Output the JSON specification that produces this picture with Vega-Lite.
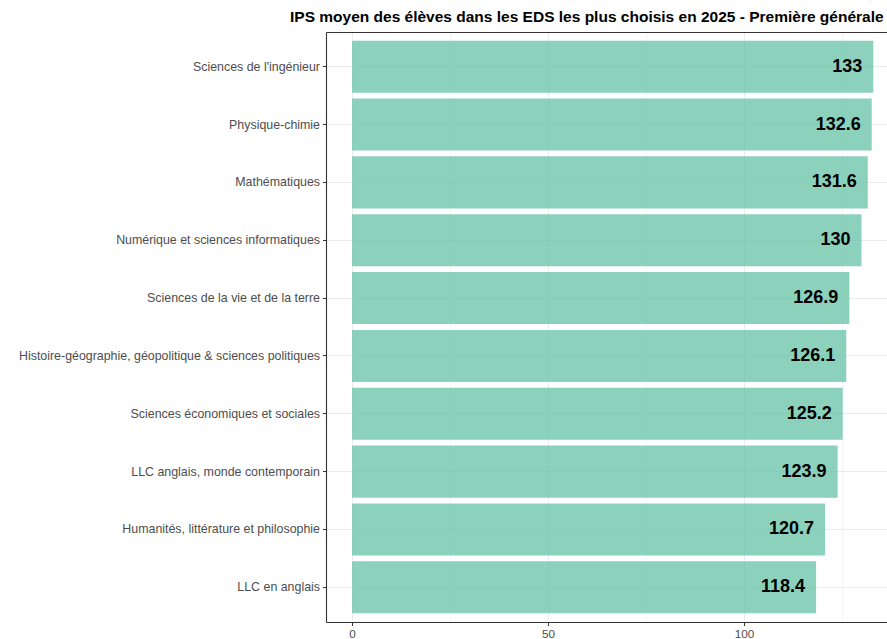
{
  "$schema": "https://vega.github.io/schema/vega-lite/v6.json",
  "autosize": {"type": "none"},
  "padding": {"left": 326, "top": 32, "right": 0, "bottom": 17},
  "width": 561,
  "height": 590,
  "background": "white",
  "title": {
    "text": "IPS moyen des élèves dans les EDS les plus choisis en 2025 - Première générale",
    "anchor": "start",
    "frame": "group",
    "dx": -36,
    "offset": -5,
    "baseline": "alphabetic",
    "font": "Liberation Sans",
    "fontSize": 15.5,
    "fontWeight": "bold",
    "color": "black"
  },
  "config": {
    "font": "Liberation Sans",
    "view": {"stroke": null},
    "axis": {
      "labelFont": "Liberation Sans",
      "labelFontSize": 12.4,
      "labelColor": "#4D4D4D",
      "tickColor": "#333333",
      "tickSize": 3.5,
      "domainColor": "#333333",
      "domainWidth": 1.1,
      "gridColor": "#EBEBEB",
      "title": null
    }
  },
  "data": {
    "values": [
      {"eds": "Sciences de l'ingénieur", "ips": 133},
      {"eds": "Physique-chimie", "ips": 132.6},
      {"eds": "Mathématiques", "ips": 131.6},
      {"eds": "Numérique et sciences informatiques", "ips": 130},
      {"eds": "Sciences de la vie et de la terre", "ips": 126.9},
      {"eds": "Histoire-géographie, géopolitique & sciences politiques", "ips": 126.1},
      {"eds": "Sciences économiques et sociales", "ips": 125.2},
      {"eds": "LLC anglais, monde contemporain", "ips": 123.9},
      {"eds": "Humanités, littérature et philosophie", "ips": 120.7},
      {"eds": "LLC en anglais", "ips": 118.4}
    ]
  },
  "resolve": {"axis": {"x": "independent"}},
  "layer": [
    {
      "mark": {"type": "bar", "color": "#66C2A5", "opacity": 0.75},
      "encoding": {
        "y": {
          "field": "eds",
          "type": "nominal",
          "sort": null,
          "scale": {"paddingInner": 0.1, "paddingOuter": 0.15},
          "axis": {
            "bandPosition": 0.5,
            "grid": true,
            "gridWidth": 1,
            "labelPadding": 3,
            "domain": true,
            "labelLimit": 400
          }
        },
        "x": {
          "field": "ips",
          "type": "quantitative",
          "scale": {"domain": [-6.65, 136.5], "nice": false, "zero": false},
          "axis": {
            "values": [0, 25, 50, 75, 100, 125],
            "labelExpr": "datum.value % 50 === 0 ? datum.label : ''",
            "tickOpacity": {"condition": {"test": "datum.value % 50 === 0", "value": 1}, "value": 0},
            "gridWidth": {"condition": {"test": "datum.value % 50 === 0", "value": 1}, "value": 0.5},
            "grid": true,
            "labelPadding": 3,
            "labelFontSize": 11.7,
            "orient": "bottom"
          }
        },
        "x2": {"datum": 0}
      }
    },
    {
      "mark": {"type": "text", "align": "right", "baseline": "middle", "dx": -11, "fontSize": 18, "fontWeight": "bold", "color": "black"},
      "encoding": {
        "y": {"field": "eds", "type": "nominal", "sort": null},
        "x": {
          "field": "ips",
          "type": "quantitative",
          "axis": {"orient": "top", "labels": false, "ticks": false, "grid": false, "domain": true}
        },
        "text": {"field": "ips", "type": "quantitative"}
      }
    }
  ]
}
